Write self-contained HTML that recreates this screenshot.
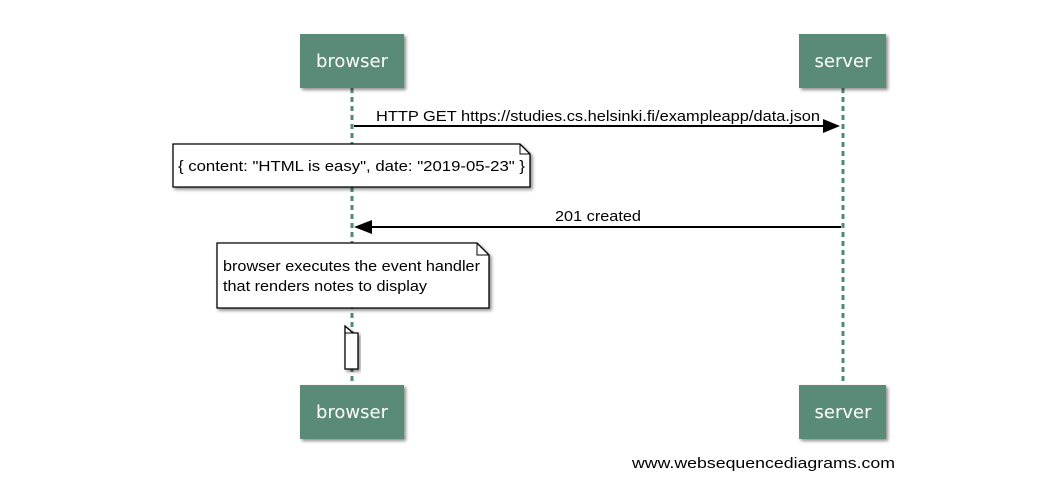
<!DOCTYPE html>
<html><head><meta charset="utf-8"><style>
body{margin:0;background:#fff}
svg text{font-family:"Liberation Sans Narrow","Liberation Sans",sans-serif}
.b{font-family:"DejaVu Sans",sans-serif;fill:#fff;font-size:18px}
</style></head><body>
<svg width="1063" height="499" viewBox="0 0 1063 499" xmlns="http://www.w3.org/2000/svg">
<defs><filter id="s" x="-10%" y="-10%" width="130%" height="140%"><feDropShadow dx="2" dy="2" stdDeviation="1.5" flood-opacity="0.45"/></filter></defs>
<line x1="352" y1="88" x2="352" y2="386" stroke="#4f8a74" stroke-width="3" stroke-dasharray="5,4"/>
<line x1="843" y1="88" x2="843" y2="386" stroke="#4f8a74" stroke-width="3" stroke-dasharray="5,4"/>
<g filter="url(#s)">
<rect x="300" y="34" width="104" height="54" fill="#5a8b76"/>
<rect x="799" y="34" width="87" height="54" fill="#5a8b76"/>
<rect x="300" y="385" width="104" height="54" fill="#5a8b76"/>
<rect x="799" y="385" width="87" height="54" fill="#5a8b76"/>
</g>
<text class="b" x="352" y="67" text-anchor="middle">browser</text>
<text class="b" x="843" y="67" text-anchor="middle">server</text>
<text class="b" x="352" y="418" text-anchor="middle">browser</text>
<text class="b" x="843" y="418" text-anchor="middle">server</text>
<line x1="354" y1="126" x2="826" y2="126" stroke="#000" stroke-width="2"/>
<polygon points="840,126 823,119 823,133" fill="#000"/>
<text x="598" y="121" font-size="15" text-anchor="middle" textLength="444" lengthAdjust="spacingAndGlyphs">HTTP GET https://studies.cs.helsinki.fi/exampleapp/data.json</text>
<line x1="370" y1="227" x2="841" y2="227" stroke="#000" stroke-width="2"/>
<polygon points="354,227 372,220 372,234" fill="#000"/>
<text x="598" y="221" font-size="15" text-anchor="middle" textLength="86" lengthAdjust="spacingAndGlyphs">201 created</text>
<path d="M173,144 H520 L530,154 V187 H173 Z" fill="#fff" stroke="#000" stroke-width="1.3" filter="url(#s)"/>
<path d="M520,144 V154 H530" fill="none" stroke="#000" stroke-width="1"/>
<text x="178" y="171" font-size="15" textLength="347" lengthAdjust="spacingAndGlyphs">{ content: "HTML is easy", date: "2019-05-23" }</text>
<path d="M217,243 H477 L489,255 V308 H217 Z" fill="#fff" stroke="#000" stroke-width="1.3" filter="url(#s)"/>
<path d="M477,243 V255 H489" fill="none" stroke="#000" stroke-width="1"/>
<text x="223" y="271" font-size="15" textLength="257" lengthAdjust="spacingAndGlyphs">browser executes the event handler</text>
<text x="223" y="291" font-size="15" textLength="204" lengthAdjust="spacingAndGlyphs">that renders notes to display</text>
<path d="M345,326 L353,333 H358 V369 H345 Z" fill="#fff" stroke="#000" stroke-width="1.3" filter="url(#s)"/>
<path d="M345,326 V333 H353" fill="none" stroke="#000" stroke-width="1"/>
<text x="632" y="468" font-size="15" textLength="263" lengthAdjust="spacingAndGlyphs">www.websequencediagrams.com</text>
</svg>
</body></html>
